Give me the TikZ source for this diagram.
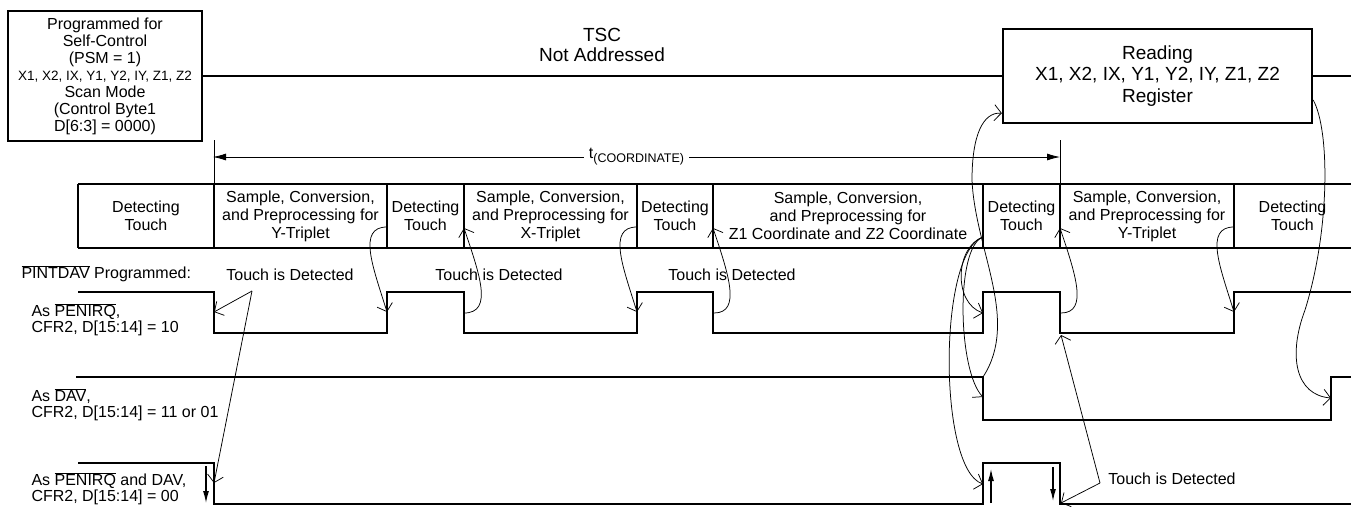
\documentclass[tikz,border=0pt]{standalone}
\usepackage{fontspec}
\setmainfont{Liberation Sans}
\usetikzlibrary{arrows.meta,positioning}

\tikzset{
  wire/.style={line width=2.3pt},
  phase/.style={inner sep=0pt, outer sep=0pt, minimum height=64pt, align=center},
  sidelabel/.style={anchor=west, align=left, font=\fontsize{16}{16}\selectfont},
  cause/.style={-{Straight Barb[length=7pt,width=16pt]}, line width=0.75pt},
  edgemark/.style={-{Latex[length=12pt,width=6pt]}, line width=1.2pt},
}
\newcommand{\ovl}[1]{$\overline{\mbox{#1}}$}

\begin{document}
\begin{tikzpicture}[x=1pt, y=-1pt, font=\fontsize{16}{18}\selectfont]
\useasboundingbox (0,0) rectangle (1351,506);

% mode boxes and TSC line
\node[draw, wire, align=center, inner sep=0pt, minimum width=194pt, minimum height=130pt,
      font=\fontsize{16}{17}\selectfont] (psm) at (105,76)
  {Programmed for\\Self-Control\\(PSM = 1)\\{\fontsize{13.5}{17}\selectfont X1, X2, IX, Y1, Y2, IY, Z1, Z2}\\Scan Mode\\(Control Byte1\\D[6:3] = 0000)};
\node[draw, wire, align=center, inner sep=0pt, minimum width=309pt, minimum height=94pt,
      font=\fontsize{19}{21.5}\selectfont] (read) at (1157.5,76)
  {Reading\\X1, X2, IX, Y1, Y2, IY, Z1, Z2\\Register};
\node[align=center, font=\fontsize{19}{20}\selectfont] (tsc) at (602,45) {TSC\\Not Addressed};
\draw[wire] (psm.east) -- (read.west) (read.east) -- (1351,76);

% conversion phases
\node[phase, minimum width=136pt, anchor=north west] (ph1) at (78,184) {Detecting\\Touch};
\node[phase, minimum width=173pt, right=0pt of ph1] (ph2) {Sample, Conversion,\\and Preprocessing for\\Y-Triplet};
\node[phase, minimum width=77pt, right=0pt of ph2] (ph3) {Detecting\\Touch};
\node[phase, minimum width=173pt, right=0pt of ph3] (ph4) {Sample, Conversion,\\and Preprocessing for\\X-Triplet};
\node[phase, minimum width=76pt, right=0pt of ph4] (ph5) {Detecting\\Touch};
\node[phase, minimum width=270pt, right=0pt of ph5] (ph6) {Sample, Conversion,\\and Preprocessing for\\Z1 Coordinate and Z2 Coordinate};
\node[phase, minimum width=77pt, right=0pt of ph6] (ph7) {Detecting\\Touch};
\node[phase, minimum width=174pt, right=0pt of ph7] (ph8) {Sample, Conversion,\\and Preprocessing for\\Y-Triplet};
\node[phase, minimum width=117pt, right=0pt of ph8] (ph9) {Detecting\\Touch};
\draw[wire] (ph1.north west) -- (ph9.north east) (ph1.south west) -- (ph9.south east)
  (ph1.north west) -- (ph1.south west);
\foreach \p in {1,...,8}
  \draw[wire] (ph\p.north east) -- (ph\p.south east);

% coordinate time
\draw[line width=0.6pt] (ph2.north west) -- ++(0,-44) (ph8.north west) -- ++(0,-44);
\draw[{Latex[length=13pt,width=7pt]}-{Latex[length=13pt,width=7pt]}, line width=0.8pt]
  (213,157) -- (1060,157)
  node[midway, fill=white, inner sep=5pt] (tco) {t\raisebox{-4pt}{\fontsize{12.5}{12.5}\selectfont(COORDINATE)}};

% labels
\node[anchor=west] (prog) at (18,274) {\ovl{PINTDAV} Programmed:};
\node (td1) at (290,275) {Touch is Detected};
\node (td2) at (499,275) {Touch is Detected};
\node (td3) at (732,275) {Touch is Detected};
\node (td4) at (1172,479) {Touch is Detected};
\node[sidelabel] (lpen) at (28,320) {As \ovl{PENIRQ},\\CFR2, D[15:14] = 10};
\node[sidelabel] (ldav) at (28,405) {As \ovl{DAV},\\CFR2, D[15:14] = 11 or 01};
\node[sidelabel] (lboth) at (28,489) {As \ovl{PENIRQ} and DAV,\\CFR2, D[15:14] = 00};

% waveforms
\draw[wire] (78,292) -| (214,333) -| (387,292) -| (464,333) -| (637,292) -| (713,333)
  -| (983,292) -| (1060,333) -| (1234,292) -- (1351,292);
\draw[wire] (76,377) -| (983,420) -| (1331,377) -- (1351,377);
\draw[wire] (78,463) -| (214,504) -| (983,463) -| (1060,504) -- (1351,504);
\draw[edgemark] (206,466) -- (206,503);
\draw[edgemark] (991,503) -- (991,469);
\draw[edgemark] (1053,467) -- (1053,501);

% trigger points
\coordinate (pf1) at (214,312);
\coordinate (pr1) at (387,312);
\coordinate (pf2) at (464,313);
\coordinate (pr2) at (637,312);
\coordinate (pf3) at (714,313);
\coordinate (pr3) at (983,313);
\coordinate (pf4) at (1061,313);
\coordinate (pl4) at (1061,335);
\coordinate (pr4) at (1234,312);
\coordinate (davtop) at (983,377);
\coordinate (davf) at (983,397);
\coordinate (davr) at (1331,398);
\coordinate (bf1) at (214,483);
\coordinate (br1) at (983,484);
\coordinate (bf2) at (1061,503);
\coordinate (tap1) at (252,291);
\coordinate (tap4) at (1100,483);
\coordinate (zend) at ([yshift=11pt]ph6.south east);

% causes
\draw[cause] (tap1) -- (pf1);
\draw[cause] (tap1) -- (bf1);
\draw[cause] (tap4) -- (pl4);
\draw[cause] (tap4) -- (bf2);
\draw[cause] ([yshift=21pt]ph2.south east) .. controls +(-30,0) and +(-14,-45) .. (pr1);
\draw[cause] ([yshift=21pt]ph4.south east) .. controls +(-30,0) and +(-14,-45) .. (pr2);
\draw[cause] ([yshift=21pt]ph8.south east) .. controls +(-30,0) and +(-14,-45) .. (pr4);
\draw[cause] (pf2) .. controls +(30,0) and +(15,45) .. ([yshift=20pt]ph4.south west);
\draw[cause] (pf3) .. controls +(28,0) and +(15,45) .. ([yshift=20pt]ph6.south west);
\draw[cause] (pf4) .. controls +(28,0) and +(15,45) .. ([yshift=20pt]ph8.south west);
\draw[cause] (zend) .. controls +(-28,10) and +(-30,-10) .. (pr3);
\draw[cause] (zend) .. controls +(-28,10) and +(-25,-25) .. (davf);
\draw[cause] (zend) .. controls +(-45,15) and +(-45,-15) .. (br1);
\draw[cause] (davtop) .. controls (1020,320) and (975,250) .. (972,180)
  .. controls (972,135) and (983,112) .. ([yshift=11pt]read.south west);
\draw[cause] ([yshift=-24pt]read.east) .. controls (1330,130) and (1330,230) .. (1305,310)
  .. controls (1288,355) and (1295,395) .. (davr);
\end{tikzpicture}
\end{document}
